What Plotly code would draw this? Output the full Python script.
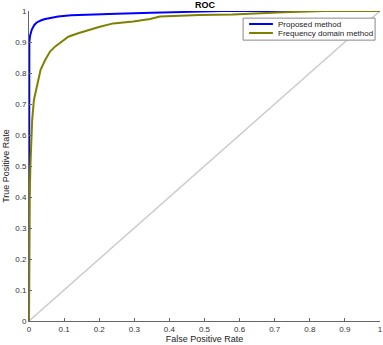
import plotly.graph_objects as go

# ROC curves
fpr_proposed = [0, 0, 0.001, 0.003, 0.008, 0.015, 0.022, 0.035, 0.046, 0.065, 0.083,
                0.12, 0.18, 0.25, 0.35, 0.45, 0.55, 0.7, 1.0]
tpr_proposed = [0, 0.85, 0.9, 0.92, 0.94, 0.955, 0.963, 0.97, 0.974, 0.978, 0.982,
                0.986, 0.989, 0.991, 0.994, 0.997, 1.0, 1.0, 1.0]

fpr_freq = [0, 0.001, 0.002, 0.004, 0.007, 0.009, 0.014, 0.024, 0.033, 0.046, 0.06,
            0.074, 0.093, 0.112, 0.14, 0.169, 0.202, 0.24, 0.297, 0.345, 0.373,
            0.487, 0.58, 0.725, 0.84, 1.0]
tpr_freq = [0, 0.3, 0.4, 0.5, 0.6, 0.648, 0.713, 0.767, 0.81, 0.842, 0.869,
            0.885, 0.901, 0.917, 0.928, 0.939, 0.949, 0.96, 0.966, 0.974, 0.982,
            0.987, 0.989, 0.996, 1.0, 1.0]

chance = [0, 1]
ticks = [0, 0.1, 0.2, 0.3, 0.4, 0.5, 0.6, 0.7, 0.8, 0.9, 1]
tick_text = ["0", "0.1", "0.2", "0.3", "0.4", "0.5", "0.6", "0.7", "0.8", "0.9", "1"]

series_names = ["Proposed method", "Frequency domain method"]
series_colors = ["#0000ff", "#808000"]

fig = go.Figure()

# diagonal reference line
fig.add_trace(go.Scatter(x=chance, y=chance, mode="lines", showlegend=False,
                         line=dict(color="#cccccc", width=1.5)))
fig.add_trace(go.Scatter(x=fpr_proposed, y=tpr_proposed, mode="lines", name=series_names[0],
                         showlegend=False, line=dict(color=series_colors[0], width=2)))
fig.add_trace(go.Scatter(x=fpr_freq, y=tpr_freq, mode="lines", name=series_names[1],
                         showlegend=False, line=dict(color=series_colors[1], width=2)))

axis_style = dict(range=[0, 1], tickvals=ticks, ticktext=tick_text, showgrid=False, zeroline=False,
                  showline=True, linecolor="#666666", linewidth=1, ticks="inside", ticklen=3,
                  tickcolor="#666666", tickfont=dict(size=8, color="#333333"), automargin=False)

fig.update_xaxes(**axis_style, title=dict(text="False Positive Rate", font=dict(size=9, color="#222222"), standoff=2))
fig.update_yaxes(**axis_style, title=dict(text="True Positive Rate", font=dict(size=9, color="#222222"), standoff=4))

# compact legend box like the matlab one (drawn in paper coords)
box_x0, box_x1 = 0.61, 0.986
box_y0, box_y1 = 0.906, 0.977
fig.add_shape(type="rect", xref="paper", yref="paper", x0=box_x0, x1=box_x1, y0=box_y0, y1=box_y1,
              line=dict(color="#888888", width=1), fillcolor="white", layer="above")
row_y = [0.958, 0.929]
for name, color, ry in zip(series_names, series_colors, row_y):
    fig.add_shape(type="line", xref="paper", yref="paper", x0=0.627, x1=0.695, y0=ry, y1=ry,
                  line=dict(color=color, width=2), layer="above")
    fig.add_annotation(xref="paper", yref="paper", x=0.705, y=ry, text=name, showarrow=False,
                       xanchor="left", yanchor="middle", font=dict(size=8, color="#222222"))

fig.update_layout(
    width=383, height=345,
    margin=dict(l=29, r=3, t=11, b=24),
    paper_bgcolor="white", plot_bgcolor="white",
    font=dict(family="Liberation Sans, Arial, sans-serif"),
    title=dict(text="<b>ROC</b>", x=0.535, xanchor="center", y=0.987, yanchor="middle",
               font=dict(size=9, color="#000000")),
)

fig.write_html("out.html", config={"displayModeBar": False},
               post_script="document.body.style.margin='0';")
